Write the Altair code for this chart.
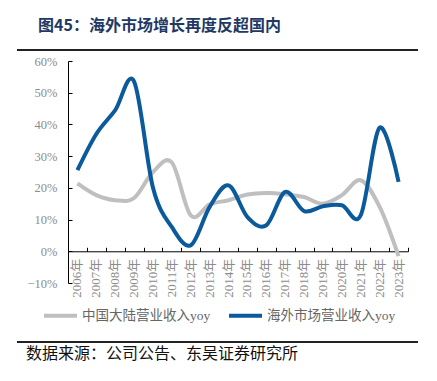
import altair as alt
import pandas as pd

years = ["2006年", "2007年", "2008年", "2009年", "2010年", "2011年", "2012年", "2013年", "2014年",
         "2015年", "2016年", "2017年", "2018年", "2019年", "2020年", "2021年", "2022年", "2023年"]
domestic = [21.4, 17.7, 16.1, 16.8, 25.0, 28.0, 11.3, 14.8, 16.1, 17.9, 18.4, 18.0, 17.1, 15.0, 17.7, 22.4, 14.0, -1.5]
overseas = [25.6, 37.0, 44.5, 53.5, 20.0, 7.6, 1.9, 14.0, 20.8, 10.8, 8.2, 18.7, 12.7, 14.2, 14.5, 11.4, 39.0, 21.9]
series_names = ["中国大陆营业收入yoy", "海外市场营业收入yoy"]
colors = ["#BFBFBF", "#0B5A9C"]
y_ticks = [-10, 0, 10, 20, 30, 40, 50, 60]
title_text = "图45：海外市场增长再度反超国内"
source_text = "数据来源：公司公告、东吴证券研究所"

df = pd.DataFrame({
    "year": years * 2,
    "series": [series_names[0]] * len(years) + [series_names[1]] * len(years),
    "value": domestic + overseas,
})

W, H = 340, 222
SERIF = "Liberation Serif, Noto Sans CJK SC"
CJK = "Noto Sans CJK SC"

xscale = alt.Scale(type="band", domain=years, paddingInner=0, paddingOuter=0)
yscale = alt.Scale(domain=[-10, 60], nice=False, zero=False)

lines = alt.Chart(df).mark_line(interpolate="cardinal", strokeWidth=4).encode(
    x=alt.X("year:N", scale=xscale, bandPosition=0.5,
            axis=alt.Axis(orient="bottom", offset=-H / 7, title=None, ticks=False, domain=True,
                          domainColor="black", domainWidth=1, labelAngle=270, labelAlign="right",
                          labelBaseline="middle", labelPadding=7, labelFont=SERIF, labelFontSize=13,
                          labelColor="#8C8C8C", grid=False)),
    y=alt.Y("value:Q", scale=yscale,
            axis=alt.Axis(orient="left", values=y_ticks, title=None, ticks=False, domain=True,
                          domainColor="black", grid=False,
                          labelExpr="replace(datum.value + '%', '-', '−')", labelPadding=11,
                          labelFont=SERIF, labelFontSize=12.5, labelColor="#8C8C8C")),
    color=alt.Color("series:N", scale=alt.Scale(domain=series_names, range=colors),
                    legend=alt.Legend(title=None, orient="none", legendX=-26, legendY=236,
                                      direction="horizontal", symbolType="stroke", symbolSize=1089,
                                      symbolStrokeWidth=4, labelFont=SERIF, labelFontSize=13.5,
                                      labelColor="#666666", labelOffset=3, columnPadding=10)),
)

ticks_layer = alt.Chart(df).mark_point(opacity=0).encode(
    x=alt.X("year:N", scale=xscale,
            axis=alt.Axis(orient="top", offset=-H * 6 / 7, labels=False, domain=False, ticks=True,
                          tickSize=4, tickColor="black", tickBand="extent", title=None, grid=False)),
    y=alt.Y("value:Q", scale=yscale,
            axis=alt.Axis(orient="right", offset=-W, values=y_ticks, labels=False, domain=False,
                          ticks=True, tickSize=4, tickColor="black", title=None, grid=False)),
)

one = pd.DataFrame({"t": [title_text], "s": [source_text]})

title_layer = alt.Chart(one).mark_text(align="left", baseline="middle", font=CJK, fontSize=16,
                                       fontWeight="bold", color="#1F3864").encode(
    text="t:N", x=alt.value(-30), y=alt.value(-35))

source_layer = alt.Chart(one).mark_text(align="left", baseline="middle", font=CJK, fontSize=16,
                                        color="#111111").encode(
    text="s:N", x=alt.value(-42), y=alt.value(293))

rule_top = alt.Chart(one).mark_rule(color="#222222", strokeWidth=2).encode(
    x=alt.value(-51), x2=alt.value(350), y=alt.value(-11))
rule_bottom = alt.Chart(one).mark_rule(color="#222222", strokeWidth=2).encode(
    x=alt.value(-51), x2=alt.value(350), y=alt.value(281))

chart = alt.layer(lines, ticks_layer, title_layer, source_layer, rule_top, rule_bottom).resolve_axis(
    x="independent", y="independent"
).properties(
    width=W, height=H,
    padding={"left": 60, "top": 53, "right": 21, "bottom": 87},
    autosize=alt.AutoSizeParams(type="none"),
    background="white",
).configure_view(stroke=None)

chart.save("out.html", embed_options={"renderer": "svg", "actions": False})
